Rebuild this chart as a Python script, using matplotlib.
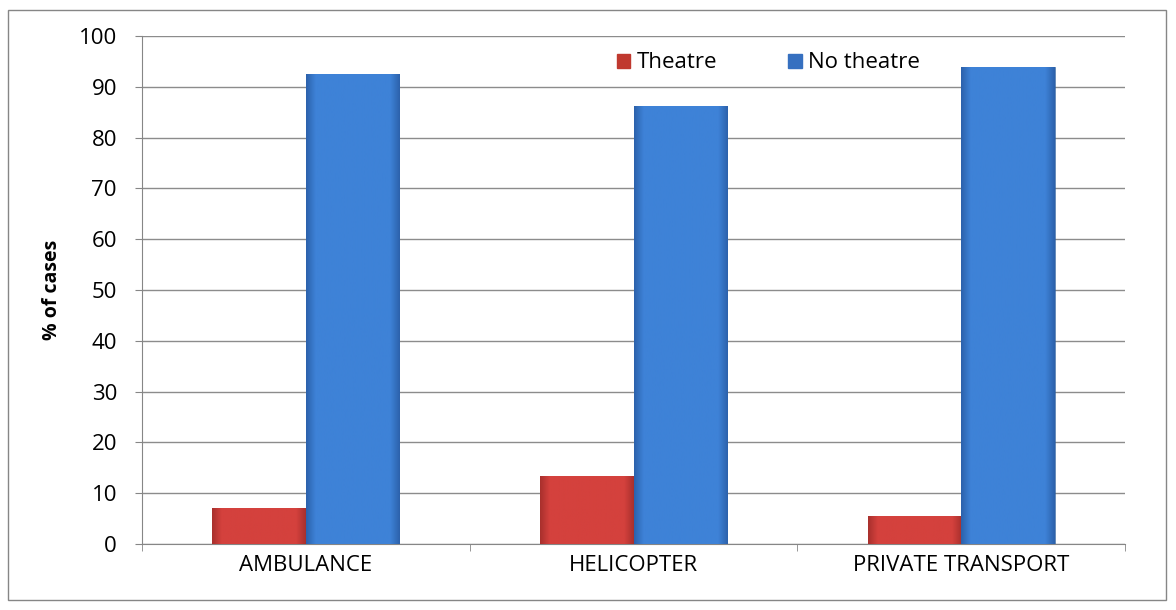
import matplotlib.pyplot as plt
import numpy as np

categories = ["AMBULANCE", "HELICOPTER", "PRIVATE TRANSPORT"]
theatre = [7.1, 13.4, 5.5]
no_theatre = [92.6, 86.2, 93.9]

plt.rcParams['font.family'] = ['Open Sans', 'DejaVu Sans']

fig = plt.figure(figsize=(11.76, 6.10), dpi=100)
ax = fig.add_axes([142 / 1176, 1 - 544 / 610, (1125 - 142) / 1176, (544 - 36) / 610])

x = np.arange(len(categories))
w = 0.285


def bevel(bars, base, dark):
    # subtle shading: darker narrow strips at the sides of each bar
    cmap = plt.matplotlib.colors.LinearSegmentedColormap.from_list(
        "b", [(0, dark), (0.1, base), (0.9, base), (1, dark)])
    grad = np.linspace(0, 1, 128).reshape(1, -1)
    for b in bars:
        x0, y0 = b.get_x(), b.get_y()
        im = ax.imshow(grad, cmap=cmap, aspect='auto', zorder=3,
                       extent=[x0, x0 + b.get_width(), y0, y0 + b.get_height()])
        im.set_clip_path(b)
        b.set_facecolor('none')


b1 = ax.bar(x - w / 2, theatre, w, color='#D2403C', label='Theatre', zorder=3,
            edgecolor='#A8302C', linewidth=0.5)
b2 = ax.bar(x + w / 2, no_theatre, w, color='#3D80D6', label='No theatre', zorder=3,
            edgecolor='#2A5E9E', linewidth=0.5)
bevel(b1, '#D4413D', '#A9302D')
bevel(b2, '#3E82D7', '#2C62AC')

ax.set_xlim(-0.5, 2.5)
ax.set_ylim(0, 100)
ax.set_yticks(range(0, 101, 10))
ax.set_xticks(x)
ax.set_xticklabels(categories, fontsize=16)
ax.tick_params(axis='y', labelsize=16, length=5, color='#868686', direction='out', pad=13)
ax.tick_params(axis='x', length=0, pad=8)
ax.set_xticks([-0.5, 0.5, 1.5, 2.5], minor=True)
ax.tick_params(axis='x', which='minor', length=5, color='#868686')
ax.grid(axis='y', color='#8C8C8C', linewidth=1, zorder=0)
for s in ['top', 'right']:
    ax.spines[s].set_visible(False)
ax.spines['left'].set_color('#868686')
ax.spines['bottom'].set_color('#868686')
ax.set_ylabel('% of cases', fontsize=14, fontweight='bold', labelpad=12)

h1 = plt.Rectangle((0, 0), 1, 1, color='#C0392F')
h2 = plt.Rectangle((0, 0), 1, 1, color='#3670C0')
ax.legend([h1, h2], ['Theatre', 'No theatre'], loc='center left',
          bbox_to_anchor=(0.474, 0.947), ncol=2, frameon=False, fontsize=16,
          handlelength=0.6, handleheight=0.6, handletextpad=0.3, columnspacing=3.2,
          borderaxespad=0)

fig.patches.append(plt.Rectangle((8 / 1176, 10 / 610), 1158 / 1176, 590 / 610,
                                 transform=fig.transFigure, fill=False,
                                 edgecolor='#868686', linewidth=1))

fig.savefig('out.png', dpi=100)
